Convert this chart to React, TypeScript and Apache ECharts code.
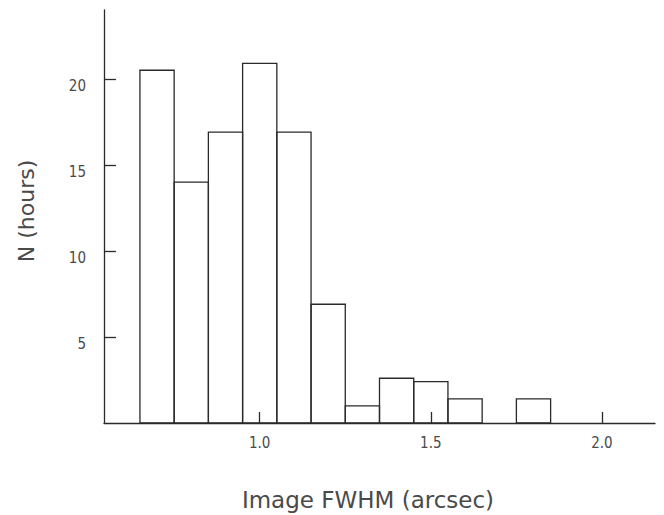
import React, { useEffect, useRef } from "react";
import * as echarts from "echarts";

// Histogram of seeing: hours spent in each 0.1" bin of image FWHM
const binStarts = [0.65, 0.75, 0.85, 0.95, 1.05, 1.15, 1.25, 1.35, 1.45, 1.55, 1.75];
const binWidth = 0.1;
const hours = [20.5, 14, 16.9, 20.9, 16.9, 6.9, 1, 2.6, 2.4, 1.4, 1.4];

const xTicks = [1.0, 1.5, 2.0];
const yTicks = [5, 10, 15, 20];

const xTitle = "Image FWHM (arcsec)";
const yTitle = "N (hours)";

const ink = "#2a2a2a";
const textInk = "#4a4a4a";
const tickFont = "'DejaVu Sans Condensed', 'Liberation Sans Narrow', 'DejaVu Sans', sans-serif";
const titleFont = "'DejaVu Sans', sans-serif";

export default function App() {
  const ref = useRef<HTMLDivElement>(null);

  useEffect(() => {
    if (!ref.current) return;
    const chart = echarts.init(ref.current, undefined, { renderer: "svg" });

    const data = binStarts.map((s, i) => [s, s + binWidth, hours[i]]);

    chart.setOption({
      animation: false,
      backgroundColor: "#ffffff",
      grid: { left: 104, right: 9, top: 10, bottom: 92, containLabel: false },
      xAxis: {
        type: "value",
        min: 0.545,
        max: 2.155,
        splitLine: { show: false },
        axisLine: { show: true, lineStyle: { color: ink, width: 1.3 } },
        axisTick: {
          show: true,
          inside: true,
          length: 11,
          customValues: xTicks,
          lineStyle: { color: ink, width: 1.3 },
        },
        axisLabel: {
          customValues: xTicks,
          formatter: (v: number) => v.toFixed(1),
          margin: 12,
          verticalAlign: "top",
          color: textInk,
          fontFamily: tickFont,
          fontSize: 15,
        },
      },
      yAxis: {
        type: "value",
        min: 0,
        max: 24,
        splitLine: { show: false },
        axisLine: { show: true, lineStyle: { color: ink, width: 1.3 } },
        axisTick: {
          show: true,
          inside: true,
          length: 12,
          customValues: yTicks,
          lineStyle: { color: ink, width: 1.3 },
        },
        axisLabel: {
          customValues: yTicks,
          margin: 18,
          verticalAlign: "top",
          color: textInk,
          fontFamily: tickFont,
          fontSize: 15,
        },
      },
      series: [
        {
          type: "custom",
          data,
          encode: { x: [0, 1], y: 2 },
          renderItem: (params: any, api: any) => {
            const p0 = api.coord([api.value(0), 0]);
            const p1 = api.coord([api.value(1), api.value(2)]);
            return {
              type: "rect",
              shape: { x: p0[0], y: p1[1], width: p1[0] - p0[0], height: p0[1] - p1[1] },
              style: { fill: "rgba(255,255,255,0)", stroke: ink, lineWidth: 1.3 },
            };
          },
        },
      ],
      graphic: [
        {
          type: "text",
          x: 368,
          y: 500,
          style: {
            text: xTitle,
            align: "center",
            verticalAlign: "middle",
            fill: textInk,
            font: `23px ${titleFont}`,
          },
        },
        {
          type: "text",
          x: 26,
          y: 211,
          rotation: Math.PI / 2,
          style: {
            text: yTitle,
            align: "center",
            verticalAlign: "middle",
            fill: textInk,
            font: `22px ${titleFont}`,
          },
        },
      ],
    });

    return () => chart.dispose();
  }, []);

  return <div ref={ref} style={{ width: 664, height: 515, position: "absolute", left: 0, top: 0 }} />;
}
